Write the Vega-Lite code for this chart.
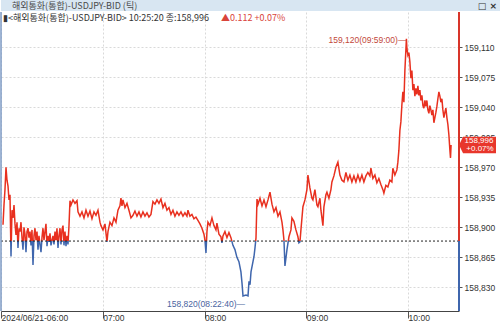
{
"$schema": "https://vega.github.io/schema/vega-lite/v6.json",
"padding": 0,
"autosize": {"type": "pad"},
"background": "white",
"spacing": 0,
"config": {
 "view": {"stroke": null},
 "axis": {"labelFont": "Liberation Sans", "labelFontSize": 8.5, "labelColor": "#333333", "gridColor": "#d9d9d9", "gridDash": [2, 2], "tickColor": "#555555", "domainColor": "#555555"}
},
"datasets": {
 "ticks": [
{"t":"2024-06-21T06:01:11","v":158.903},{"t":"2024-06-21T06:01:46","v":158.926},{"t":"2024-06-21T06:02:21","v":158.944},{"t":"2024-06-21T06:02:57","v":158.970},{"t":"2024-06-21T06:03:32","v":158.955},{"t":"2024-06-21T06:04:08","v":158.948},{"t":"2024-06-21T06:04:43","v":158.932},{"t":"2024-06-21T06:05:18","v":158.938},{"t":"2024-06-21T06:05:54","v":158.866},{"t":"2024-06-21T06:06:29","v":158.920},{"t":"2024-06-21T06:07:04","v":158.911},{"t":"2024-06-21T06:07:40","v":158.926},{"t":"2024-06-21T06:08:15","v":158.904},{"t":"2024-06-21T06:08:50","v":158.891},{"t":"2024-06-21T06:09:26","v":158.906},{"t":"2024-06-21T06:10:01","v":158.876},{"t":"2024-06-21T06:10:37","v":158.899},{"t":"2024-06-21T06:11:12","v":158.895},{"t":"2024-06-21T06:11:47","v":158.906},{"t":"2024-06-21T06:12:23","v":158.888},{"t":"2024-06-21T06:12:58","v":158.874},{"t":"2024-06-21T06:13:33","v":158.900},{"t":"2024-06-21T06:14:09","v":158.892},{"t":"2024-06-21T06:14:44","v":158.871},{"t":"2024-06-21T06:15:19","v":158.895},{"t":"2024-06-21T06:15:55","v":158.899},{"t":"2024-06-21T06:16:30","v":158.888},{"t":"2024-06-21T06:17:06","v":158.895},{"t":"2024-06-21T06:17:41","v":158.879},{"t":"2024-06-21T06:18:16","v":158.897},{"t":"2024-06-21T06:18:52","v":158.856},{"t":"2024-06-21T06:19:27","v":158.890},{"t":"2024-06-21T06:20:02","v":158.899},{"t":"2024-06-21T06:20:38","v":158.885},{"t":"2024-06-21T06:21:13","v":158.895},{"t":"2024-06-21T06:21:49","v":158.874},{"t":"2024-06-21T06:22:24","v":158.890},{"t":"2024-06-21T06:22:59","v":158.880},{"t":"2024-06-21T06:23:35","v":158.871},{"t":"2024-06-21T06:24:10","v":158.888},{"t":"2024-06-21T06:24:45","v":158.899},{"t":"2024-06-21T06:25:21","v":158.885},{"t":"2024-06-21T06:25:56","v":158.895},{"t":"2024-06-21T06:26:31","v":158.904},{"t":"2024-06-21T06:27:07","v":158.878},{"t":"2024-06-21T06:27:42","v":158.890},{"t":"2024-06-21T06:28:18","v":158.883},{"t":"2024-06-21T06:28:53","v":158.893},{"t":"2024-06-21T06:29:28","v":158.879},{"t":"2024-06-21T06:30:04","v":158.885},{"t":"2024-06-21T06:30:39","v":158.890},{"t":"2024-06-21T06:31:14","v":158.880},{"t":"2024-06-21T06:31:50","v":158.895},{"t":"2024-06-21T06:32:25","v":158.885},{"t":"2024-06-21T06:33:00","v":158.899},{"t":"2024-06-21T06:33:36","v":158.876},{"t":"2024-06-21T06:34:11","v":158.890},{"t":"2024-06-21T06:34:47","v":158.899},{"t":"2024-06-21T06:35:22","v":158.880},{"t":"2024-06-21T06:35:57","v":158.897},{"t":"2024-06-21T06:36:33","v":158.902},{"t":"2024-06-21T06:37:08","v":158.879},{"t":"2024-06-21T06:37:43","v":158.895},{"t":"2024-06-21T06:38:19","v":158.878},{"t":"2024-06-21T06:38:54","v":158.890},{"t":"2024-06-21T06:39:29","v":158.880},{"t":"2024-06-21T06:40:05","v":158.902},{"t":"2024-06-21T06:40:40","v":158.931},{"t":"2024-06-21T06:41:16","v":158.926},{"t":"2024-06-21T06:42:26","v":158.932},{"t":"2024-06-21T06:43:37","v":158.928},{"t":"2024-06-21T06:44:48","v":158.931},{"t":"2024-06-21T06:45:23","v":158.918},{"t":"2024-06-21T06:46:34","v":158.913},{"t":"2024-06-21T06:47:44","v":158.918},{"t":"2024-06-21T06:48:55","v":158.911},{"t":"2024-06-21T06:50:06","v":158.920},{"t":"2024-06-21T06:51:17","v":158.913},{"t":"2024-06-21T06:52:27","v":158.919},{"t":"2024-06-21T06:53:38","v":158.910},{"t":"2024-06-21T06:54:49","v":158.918},{"t":"2024-06-21T06:55:59","v":158.914},{"t":"2024-06-21T06:57:10","v":158.920},{"t":"2024-06-21T06:58:21","v":158.906},{"t":"2024-06-21T06:58:56","v":158.902},{"t":"2024-06-21T07:00:07","v":158.897},{"t":"2024-06-21T07:01:18","v":158.904},{"t":"2024-06-21T07:02:28","v":158.883},{"t":"2024-06-21T07:03:04","v":158.895},{"t":"2024-06-21T07:04:14","v":158.906},{"t":"2024-06-21T07:05:25","v":158.902},{"t":"2024-06-21T07:06:36","v":158.911},{"t":"2024-06-21T07:07:47","v":158.906},{"t":"2024-06-21T07:08:57","v":158.920},{"t":"2024-06-21T07:10:08","v":158.925},{"t":"2024-06-21T07:10:43","v":158.934},{"t":"2024-06-21T07:11:19","v":158.925},{"t":"2024-06-21T07:11:54","v":158.932},{"t":"2024-06-21T07:13:05","v":158.923},{"t":"2024-06-21T07:14:16","v":158.928},{"t":"2024-06-21T07:15:26","v":158.920},{"t":"2024-06-21T07:16:37","v":158.911},{"t":"2024-06-21T07:17:48","v":158.914},{"t":"2024-06-21T07:18:58","v":158.919},{"t":"2024-06-21T07:20:09","v":158.913},{"t":"2024-06-21T07:21:20","v":158.918},{"t":"2024-06-21T07:22:30","v":158.912},{"t":"2024-06-21T07:23:41","v":158.918},{"t":"2024-06-21T07:24:52","v":158.913},{"t":"2024-06-21T07:26:03","v":158.917},{"t":"2024-06-21T07:27:13","v":158.912},{"t":"2024-06-21T07:28:24","v":158.915},{"t":"2024-06-21T07:29:35","v":158.930},{"t":"2024-06-21T07:30:46","v":158.927},{"t":"2024-06-21T07:31:57","v":158.932},{"t":"2024-06-21T07:33:07","v":158.928},{"t":"2024-06-21T07:34:18","v":158.933},{"t":"2024-06-21T07:35:29","v":158.923},{"t":"2024-06-21T07:36:39","v":158.928},{"t":"2024-06-21T07:37:50","v":158.920},{"t":"2024-06-21T07:39:01","v":158.923},{"t":"2024-06-21T07:40:12","v":158.915},{"t":"2024-06-21T07:41:22","v":158.920},{"t":"2024-06-21T07:42:33","v":158.913},{"t":"2024-06-21T07:43:43","v":158.918},{"t":"2024-06-21T07:44:54","v":158.914},{"t":"2024-06-21T07:46:05","v":158.918},{"t":"2024-06-21T07:47:16","v":158.913},{"t":"2024-06-21T07:48:26","v":158.917},{"t":"2024-06-21T07:49:37","v":158.913},{"t":"2024-06-21T07:50:13","v":158.920},{"t":"2024-06-21T07:51:23","v":158.913},{"t":"2024-06-21T07:52:34","v":158.915},{"t":"2024-06-21T07:53:45","v":158.910},{"t":"2024-06-21T07:54:55","v":158.912},{"t":"2024-06-21T07:56:06","v":158.908},{"t":"2024-06-21T07:57:17","v":158.904},{"t":"2024-06-21T07:58:28","v":158.899},{"t":"2024-06-21T07:59:39","v":158.892},{"t":"2024-06-21T08:00:14","v":158.885},{"t":"2024-06-21T08:00:50","v":158.870},{"t":"2024-06-21T08:01:25","v":158.895},{"t":"2024-06-21T08:02:00","v":158.906},{"t":"2024-06-21T08:03:11","v":158.902},{"t":"2024-06-21T08:04:22","v":158.911},{"t":"2024-06-21T08:05:32","v":158.902},{"t":"2024-06-21T08:06:43","v":158.897},{"t":"2024-06-21T08:07:18","v":158.905},{"t":"2024-06-21T08:08:29","v":158.892},{"t":"2024-06-21T08:09:40","v":158.889},{"t":"2024-06-21T08:10:15","v":158.882},{"t":"2024-06-21T08:10:51","v":158.890},{"t":"2024-06-21T08:12:01","v":158.895},{"t":"2024-06-21T08:13:12","v":158.888},{"t":"2024-06-21T08:14:23","v":158.894},{"t":"2024-06-21T08:15:33","v":158.888},{"t":"2024-06-21T08:16:44","v":158.879},{"t":"2024-06-21T08:17:55","v":158.874},{"t":"2024-06-21T08:19:05","v":158.865},{"t":"2024-06-21T08:20:16","v":158.860},{"t":"2024-06-21T08:21:27","v":158.848},{"t":"2024-06-21T08:22:05","v":158.835},{"t":"2024-06-21T08:22:40","v":158.820},{"t":"2024-06-21T08:24:26","v":158.821},{"t":"2024-06-21T08:25:37","v":158.820},{"t":"2024-06-21T08:26:12","v":158.837},{"t":"2024-06-21T08:26:48","v":158.833},{"t":"2024-06-21T08:27:23","v":158.848},{"t":"2024-06-21T08:28:33","v":158.860},{"t":"2024-06-21T08:29:09","v":158.866},{"t":"2024-06-21T08:29:44","v":158.876},{"t":"2024-06-21T08:30:20","v":158.888},{"t":"2024-06-21T08:30:55","v":158.933},{"t":"2024-06-21T08:31:30","v":158.927},{"t":"2024-06-21T08:32:41","v":158.934},{"t":"2024-06-21T08:33:52","v":158.925},{"t":"2024-06-21T08:35:02","v":158.932},{"t":"2024-06-21T08:36:13","v":158.924},{"t":"2024-06-21T08:37:24","v":158.932},{"t":"2024-06-21T08:38:34","v":158.941},{"t":"2024-06-21T08:39:45","v":158.927},{"t":"2024-06-21T08:40:55","v":158.918},{"t":"2024-06-21T08:42:06","v":158.923},{"t":"2024-06-21T08:43:17","v":158.913},{"t":"2024-06-21T08:44:27","v":158.918},{"t":"2024-06-21T08:45:38","v":158.906},{"t":"2024-06-21T08:46:13","v":158.897},{"t":"2024-06-21T08:46:49","v":158.885},{"t":"2024-06-21T08:47:24","v":158.855},{"t":"2024-06-21T08:48:35","v":158.874},{"t":"2024-06-21T08:49:45","v":158.889},{"t":"2024-06-21T08:50:56","v":158.897},{"t":"2024-06-21T08:51:30","v":158.911},{"t":"2024-06-21T08:52:41","v":158.907},{"t":"2024-06-21T08:53:52","v":158.897},{"t":"2024-06-21T08:55:03","v":158.889},{"t":"2024-06-21T08:55:38","v":158.882},{"t":"2024-06-21T08:56:14","v":158.883},{"t":"2024-06-21T08:56:49","v":158.897},{"t":"2024-06-21T08:58:00","v":158.924},{"t":"2024-06-21T08:59:11","v":158.932},{"t":"2024-06-21T09:00:21","v":158.944},{"t":"2024-06-21T09:00:57","v":158.961},{"t":"2024-06-21T09:02:07","v":158.946},{"t":"2024-06-21T09:03:18","v":158.934},{"t":"2024-06-21T09:03:53","v":158.932},{"t":"2024-06-21T09:05:04","v":158.944},{"t":"2024-06-21T09:06:15","v":158.926},{"t":"2024-06-21T09:06:50","v":158.924},{"t":"2024-06-21T09:08:01","v":158.934},{"t":"2024-06-21T09:08:36","v":158.920},{"t":"2024-06-21T09:09:47","v":158.902},{"t":"2024-06-21T09:10:22","v":158.924},{"t":"2024-06-21T09:11:33","v":158.938},{"t":"2024-06-21T09:12:09","v":158.941},{"t":"2024-06-21T09:13:19","v":158.934},{"t":"2024-06-21T09:14:30","v":158.944},{"t":"2024-06-21T09:15:05","v":158.953},{"t":"2024-06-21T09:16:16","v":158.960},{"t":"2024-06-21T09:17:27","v":158.970},{"t":"2024-06-21T09:18:37","v":158.976},{"t":"2024-06-21T09:19:48","v":158.961},{"t":"2024-06-21T09:20:59","v":158.955},{"t":"2024-06-21T09:22:10","v":158.953},{"t":"2024-06-21T09:23:20","v":158.964},{"t":"2024-06-21T09:24:31","v":158.955},{"t":"2024-06-21T09:25:41","v":158.961},{"t":"2024-06-21T09:26:52","v":158.953},{"t":"2024-06-21T09:28:03","v":158.960},{"t":"2024-06-21T09:29:14","v":158.953},{"t":"2024-06-21T09:30:24","v":158.961},{"t":"2024-06-21T09:31:35","v":158.954},{"t":"2024-06-21T09:32:46","v":158.961},{"t":"2024-06-21T09:33:56","v":158.953},{"t":"2024-06-21T09:35:07","v":158.960},{"t":"2024-06-21T09:36:17","v":158.964},{"t":"2024-06-21T09:37:28","v":158.960},{"t":"2024-06-21T09:38:04","v":158.969},{"t":"2024-06-21T09:39:14","v":158.957},{"t":"2024-06-21T09:40:25","v":158.961},{"t":"2024-06-21T09:41:36","v":158.952},{"t":"2024-06-21T09:42:46","v":158.957},{"t":"2024-06-21T09:43:57","v":158.950},{"t":"2024-06-21T09:45:08","v":158.944},{"t":"2024-06-21T09:45:43","v":158.940},{"t":"2024-06-21T09:46:54","v":158.949},{"t":"2024-06-21T09:48:05","v":158.947},{"t":"2024-06-21T09:49:15","v":158.955},{"t":"2024-06-21T09:50:26","v":158.953},{"t":"2024-06-21T09:51:01","v":158.969},{"t":"2024-06-21T09:52:12","v":158.961},{"t":"2024-06-21T09:53:23","v":158.967},{"t":"2024-06-21T09:53:58","v":158.976},{"t":"2024-06-21T09:54:34","v":158.990},{"t":"2024-06-21T09:55:09","v":159.013},{"t":"2024-06-21T09:55:44","v":159.023},{"t":"2024-06-21T09:56:20","v":159.043},{"t":"2024-06-21T09:56:55","v":159.058},{"t":"2024-06-21T09:57:31","v":159.046},{"t":"2024-06-21T09:58:06","v":159.083},{"t":"2024-06-21T09:59:00","v":159.120},{"t":"2024-06-21T09:59:17","v":159.109},{"t":"2024-06-21T09:59:52","v":159.101},{"t":"2024-06-21T10:00:28","v":159.104},{"t":"2024-06-21T10:01:03","v":159.093},{"t":"2024-06-21T10:01:39","v":159.074},{"t":"2024-06-21T10:02:14","v":159.083},{"t":"2024-06-21T10:02:49","v":159.060},{"t":"2024-06-21T10:03:25","v":159.067},{"t":"2024-06-21T10:04:00","v":159.053},{"t":"2024-06-21T10:04:35","v":159.062},{"t":"2024-06-21T10:05:11","v":159.055},{"t":"2024-06-21T10:05:46","v":159.065},{"t":"2024-06-21T10:06:21","v":159.054},{"t":"2024-06-21T10:06:57","v":159.060},{"t":"2024-06-21T10:07:32","v":159.048},{"t":"2024-06-21T10:08:08","v":159.054},{"t":"2024-06-21T10:08:43","v":159.042},{"t":"2024-06-21T10:09:18","v":159.039},{"t":"2024-06-21T10:09:54","v":159.048},{"t":"2024-06-21T10:10:29","v":159.041},{"t":"2024-06-21T10:11:04","v":159.048},{"t":"2024-06-21T10:11:40","v":159.037},{"t":"2024-06-21T10:12:15","v":159.033},{"t":"2024-06-21T10:12:50","v":159.042},{"t":"2024-06-21T10:13:26","v":159.037},{"t":"2024-06-21T10:14:01","v":159.031},{"t":"2024-06-21T10:14:37","v":159.037},{"t":"2024-06-21T10:15:12","v":159.022},{"t":"2024-06-21T10:15:47","v":159.028},{"t":"2024-06-21T10:16:23","v":159.034},{"t":"2024-06-21T10:16:58","v":159.041},{"t":"2024-06-21T10:17:33","v":159.050},{"t":"2024-06-21T10:18:09","v":159.058},{"t":"2024-06-21T10:18:44","v":159.053},{"t":"2024-06-21T10:19:20","v":159.046},{"t":"2024-06-21T10:19:55","v":159.050},{"t":"2024-06-21T10:20:30","v":159.037},{"t":"2024-06-21T10:21:06","v":159.028},{"t":"2024-06-21T10:21:41","v":159.034},{"t":"2024-06-21T10:22:16","v":159.039},{"t":"2024-06-21T10:22:52","v":159.028},{"t":"2024-06-21T10:23:27","v":159.020},{"t":"2024-06-21T10:24:02","v":159.008},{"t":"2024-06-21T10:24:38","v":158.990},{"t":"2024-06-21T10:25:00","v":158.981},{"t":"2024-06-21T10:25:20","v":158.996}
 ]
},
"vconcat": [
 {
  "width": 500,
  "height": 11,
  "view": {"fill": "#d8e6f2", "stroke": null},
  "data": {"values": [{}]},
  "layer": [
   {
    "mark": {"type": "text", "align": "left", "baseline": "middle", "dx": 11, "dy": 0, "font": "Noto Sans CJK KR", "fontSize": 9, "color": "#4a4a4a"},
    "encoding": {
     "x": {"datum": 0, "type": "quantitative", "scale": {"domain": [0, 1]}, "axis": null},
     "text": {"value": "해외통화(통합)-USDJPY-BID (틱)"}
    }
   },
   {
    "mark": {"type": "text", "align": "right", "baseline": "middle", "dx": -4, "font": "DejaVu Sans", "fontSize": 9, "fontWeight": "bold", "color": "#333333"},
    "encoding": {
     "x": {"datum": 1, "type": "quantitative", "scale": {"domain": [0, 1]}, "axis": null},
     "text": {"value": "□ ×"}
    }
   }
  ]
 },
 {
  "width": 458,
  "height": 299,
  "layer": [
   {
    "data": {"name": "ticks"},
    "mark": {"type": "line", "strokeWidth": 1.5, "stroke": {"gradient": "linear", "x1": 0, "y1": 0, "x2": 0, "y2": 1, "stops": [{"offset": 0, "color": "#e8301f"}, {"offset": 0.7867, "color": "#e8301f"}, {"offset": 0.7867, "color": "#3f66ad"}, {"offset": 1, "color": "#3f66ad"}]}},
    "encoding": {
     "x": {"field": "t", "type": "temporal",
      "scale": {"domain": [{"year": 2024, "month": 6, "date": 21, "hours": 6}, {"year": 2024, "month": 6, "date": 21, "hours": 10, "minutes": 30}]},
      "axis": {"title": null, "values": [{"year": 2024, "month": 6, "date": 21, "hours": 6}, {"year": 2024, "month": 6, "date": 21, "hours": 7}, {"year": 2024, "month": 6, "date": 21, "hours": 8}, {"year": 2024, "month": 6, "date": 21, "hours": 9}, {"year": 2024, "month": 6, "date": 21, "hours": 10}],
       "tickCount": 20,
       "labelExpr": "datum.index == 0 ? timeFormat(datum.value, '%Y/%m/%d-%H:%M') : timeFormat(datum.value, '%H:%M')",
       "labelAlign": "left", "labelBaseline": "top", "labelPadding": -5, "labelDx": 1, "tickSize": 7, "grid": true, "domainColor": "#444444", "labelOverlap": false, "labelBound": false, "labelFlush": false}},
     "y": {"field": "v", "type": "quantitative",
      "scale": {"domain": [158.8024, 159.1512], "nice": false, "zero": false},
      "axis": {"title": null, "orient": "right", "values": [158.83, 158.865, 158.9, 158.935, 158.97, 159.005, 159.04, 159.075, 159.11],
       "tickCount": 20,
       "labelExpr": "replace(format(datum.value, '.3f'), '.', ',')", "domain": false, "tickSize": 3, "labelPadding": 2, "grid": true, "labelOverlap": false, "labelBound": false, "labelFlush": false}}
    }
   },
   {
    "data": {"values": [{}]},
    "mark": {"type": "rule", "color": "#222222", "strokeDash": [2, 2], "strokeWidth": 1},
    "encoding": {"y": {"datum": 158.884, "type": "quantitative"}}
   },
   {
    "data": {"values": [{}]},
    "mark": {"type": "rule", "color": "#7d9ac4", "strokeWidth": 1.5},
    "encoding": {"x": {"datum": {"year": 2024, "month": 6, "date": 21, "hours": 6}, "type": "temporal"}}
   },
   {
    "data": {"values": [{}]},
    "mark": {"type": "rule", "color": "#d8352a", "strokeWidth": 2},
    "encoding": {
     "x": {"datum": {"year": 2024, "month": 6, "date": 21, "hours": 10, "minutes": 30}, "type": "temporal"},
     "y": {"datum": 158.884, "type": "quantitative"},
     "y2": {"datum": 159.1512}
    }
   },
   {
    "data": {"values": [{}]},
    "mark": {"type": "rule", "color": "#3f66ad", "strokeWidth": 2},
    "encoding": {
     "x": {"datum": {"year": 2024, "month": 6, "date": 21, "hours": 10, "minutes": 30}, "type": "temporal"},
     "y": {"datum": 158.8024, "type": "quantitative"},
     "y2": {"datum": 158.884}
    }
   },
   {
    "data": {"values": [{}]},
    "mark": {"type": "text", "align": "right", "baseline": "middle", "dx": 2, "dy": 8, "font": "Liberation Sans", "fontSize": 8.5, "color": "#4a64a0"},
    "encoding": {
     "x": {"datum": {"year": 2024, "month": 6, "date": 21, "hours": 8, "minutes": 22, "seconds": 40}, "type": "temporal"},
     "y": {"datum": 158.820, "type": "quantitative"},
     "text": {"value": "158,820(08:22:40)—"}
    }
   },
   {
    "data": {"values": [{}]},
    "mark": {"type": "text", "align": "right", "baseline": "middle", "dx": 0, "dy": 1, "font": "Liberation Sans", "fontSize": 8.5, "color": "#c2483a"},
    "encoding": {
     "x": {"datum": {"year": 2024, "month": 6, "date": 21, "hours": 9, "minutes": 59}, "type": "temporal"},
     "y": {"datum": 159.120, "type": "quantitative"},
     "text": {"value": "159,120(09:59:00)—"}
    }
   },
   {
    "data": {"values": [{}]},
    "mark": {"type": "point", "shape": "M0,0L0.22,-0.45L2,-0.45L2,0.45L0.22,0.45Z", "size": 1369, "filled": true, "color": "#e8362b", "opacity": 1, "strokeWidth": 0},
    "encoding": {
     "x": {"datum": {"year": 2024, "month": 6, "date": 21, "hours": 10, "minutes": 30}, "type": "temporal"},
     "y": {"datum": 158.996, "type": "quantitative"}
    }
   },
   {
    "data": {"values": [{}]},
    "mark": {"type": "text", "align": "center", "baseline": "middle", "dx": 20, "dy": -4, "font": "Liberation Sans", "fontSize": 8, "color": "white"},
    "encoding": {
     "x": {"datum": {"year": 2024, "month": 6, "date": 21, "hours": 10, "minutes": 30}, "type": "temporal"},
     "y": {"datum": 158.996, "type": "quantitative"},
     "text": {"value": "158,996"}
    }
   },
   {
    "data": {"values": [{}]},
    "mark": {"type": "text", "align": "center", "baseline": "middle", "dx": 21, "dy": 4, "font": "Liberation Sans", "fontSize": 8, "color": "white"},
    "encoding": {
     "x": {"datum": {"year": 2024, "month": 6, "date": 21, "hours": 10, "minutes": 30}, "type": "temporal"},
     "y": {"datum": 158.996, "type": "quantitative"},
     "text": {"value": "+0.07%"}
    }
   },
   {
    "data": {"values": [{}]},
    "mark": {"type": "text", "align": "left", "baseline": "top", "dx": 2, "dy": 2, "font": "Noto Sans CJK KR", "fontSize": 9, "color": "#333333"},
    "encoding": {
     "x": {"datum": {"year": 2024, "month": 6, "date": 21, "hours": 6}, "type": "temporal"},
     "y": {"datum": 159.1512, "type": "quantitative"},
     "text": {"value": "▮<해외통화(통합)-USDJPY-BID> 10:25:20 종:158,996"}
    }
   },
   {
    "data": {"values": [{}]},
    "mark": {"type": "text", "align": "left", "baseline": "top", "dx": 220, "dy": 2, "font": "Noto Sans CJK KR", "fontSize": 9, "color": "#d9443a"},
    "encoding": {
     "x": {"datum": {"year": 2024, "month": 6, "date": 21, "hours": 6}, "type": "temporal"},
     "y": {"datum": 159.1512, "type": "quantitative"},
     "text": {"value": "▲0.112 +0.07%"}
    }
   }
  ]
 }
]
}
